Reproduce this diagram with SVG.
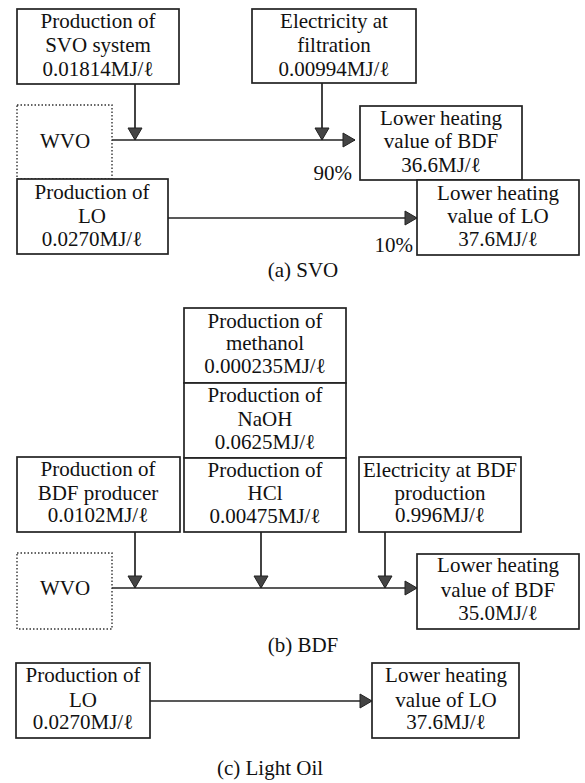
<svg xmlns="http://www.w3.org/2000/svg" width="585" height="783" viewBox="0 0 585 783">
<defs>
<marker id="ah" viewBox="0 0 16 16" refX="14" refY="8" markerWidth="16" markerHeight="16" markerUnits="userSpaceOnUse" orient="auto">
<path d="M2,1 L14,8 L2,15 Z" fill="#444" stroke="#222" stroke-width="1"/>
</marker>
<style>
text{font-family:"Liberation Serif","Times New Roman",serif;font-size:21px;fill:#111;text-anchor:middle}
.box{fill:#fff;stroke:#222;stroke-width:1.7}
.dot{fill:#fff;stroke:#333;stroke-width:1.4;stroke-dasharray:1.5 2}
.c{fill:none;stroke:#222;stroke-width:1.7}
.r{text-anchor:end}
</style>
</defs>
<rect width="585" height="783" fill="#fff"/>

<g id="connectors">
<line class="c" x1="112" y1="140" x2="355" y2="140" marker-end="url(#ah)"/>
<line class="c" x1="135" y1="84" x2="135" y2="140" marker-end="url(#ah)"/>
<line class="c" x1="322" y1="83" x2="322" y2="140" marker-end="url(#ah)"/>
<line class="c" x1="168" y1="218" x2="417" y2="218" marker-end="url(#ah)"/>
<line class="c" x1="112" y1="588" x2="417" y2="588" marker-end="url(#ah)"/>
<line class="c" x1="135" y1="532" x2="135" y2="588" marker-end="url(#ah)"/>
<line class="c" x1="261" y1="532" x2="261" y2="588" marker-end="url(#ah)"/>
<line class="c" x1="385" y1="532" x2="385" y2="588" marker-end="url(#ah)"/>
<line class="c" x1="150" y1="701" x2="372" y2="701" marker-end="url(#ah)"/>
</g>

<g id="a_svo_system">
<rect class="box" x="17" y="9" width="162" height="75"/>
<text x="98" y="28">Production of</text>
<text x="98" y="52">SVO system</text>
<text x="98" y="76">0.01814MJ/ℓ</text>
</g>
<g id="a_elec_filtration">
<rect class="box" x="252" y="9" width="164" height="74"/>
<text x="334" y="28">Electricity at</text>
<text x="334" y="52">filtration</text>
<text x="334" y="76">0.00994MJ/ℓ</text>
</g>
<g id="a_wvo">
<rect class="dot" x="17" y="105" width="95" height="74"/>
<text x="65" y="148">WVO</text>
</g>
<g id="a_prod_lo">
<rect class="box" x="17" y="179" width="151" height="75"/>
<text x="92" y="199">Production of</text>
<text x="92" y="223">LO</text>
<text x="92" y="246">0.0270MJ/ℓ</text>
</g>
<g id="a_lhv_bdf">
<rect class="box" x="360" y="106" width="162" height="74"/>
<text x="441" y="125">Lower heating</text>
<text x="441" y="148">value of BDF</text>
<text x="441" y="172">36.6MJ/ℓ</text>
</g>
<g id="a_lhv_lo">
<rect class="box" x="417" y="180" width="162" height="75"/>
<text x="498" y="200">Lower heating</text>
<text x="498" y="223">value of LO</text>
<text x="498" y="246">37.6MJ/ℓ</text>
</g>
<text class="r" x="352" y="180">90%</text>
<text class="r" x="413" y="252">10%</text>
<text x="303" y="277">(a) SVO</text>

<g id="b_methanol">
<rect class="box" x="184" y="308" width="162" height="75"/>
<text x="265" y="328">Production of</text>
<text x="265" y="350">methanol</text>
<text x="265" y="373">0.000235MJ/ℓ</text>
</g>
<g id="b_naoh">
<rect class="box" x="184" y="383" width="162" height="75"/>
<text x="265" y="402">Production of</text>
<text x="265" y="426">NaOH</text>
<text x="265" y="449">0.0625MJ/ℓ</text>
</g>
<g id="b_hcl">
<rect class="box" x="184" y="458" width="162" height="74"/>
<text x="265" y="477">Production of</text>
<text x="265" y="500">HCl</text>
<text x="265" y="523">0.00475MJ/ℓ</text>
</g>
<g id="b_bdf_producer">
<rect class="box" x="17" y="457" width="163" height="75"/>
<text x="98" y="476">Production of</text>
<text x="98" y="500">BDF producer</text>
<text x="98" y="522">0.0102MJ/ℓ</text>
</g>
<g id="b_elec_bdf">
<rect class="box" x="359" y="457" width="162" height="75"/>
<text x="440" y="477">Electricity at BDF</text>
<text x="440" y="500">production</text>
<text x="440" y="522">0.996MJ/ℓ</text>
</g>
<g id="b_wvo">
<rect class="dot" x="17" y="553" width="95" height="76"/>
<text x="65" y="595">WVO</text>
</g>
<g id="b_lhv_bdf">
<rect class="box" x="417" y="554" width="162" height="75"/>
<text x="498" y="572">Lower heating</text>
<text x="498" y="597">value of BDF</text>
<text x="498" y="620">35.0MJ/ℓ</text>
</g>
<text x="303" y="652">(b) BDF</text>

<g id="c_prod_lo">
<rect class="box" x="16" y="663" width="134" height="75"/>
<text x="83" y="682">Production of</text>
<text x="83" y="707">LO</text>
<text x="83" y="729">0.0270MJ/ℓ</text>
</g>
<g id="c_lhv_lo">
<rect class="box" x="372" y="663" width="147" height="75"/>
<text x="446" y="682">Lower heating</text>
<text x="446" y="707">value of LO</text>
<text x="446" y="729">37.6MJ/ℓ</text>
</g>
<text x="270" y="775">(c) Light Oil</text>
</svg>
